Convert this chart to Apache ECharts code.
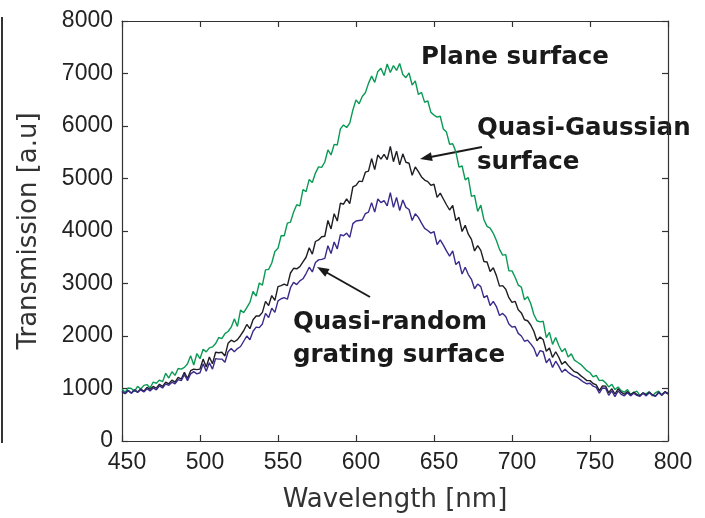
<!DOCTYPE html>
<html>
<head>
<meta charset="utf-8">
<script src="https://cdn.jsdelivr.net/npm/echarts@6/dist/echarts.min.js"></script>
<style>
html,body{margin:0;padding:0;background:#fff;}
#chart{width:705px;height:518px;}
</style>
</head>
<body>
<div id="chart"></div>
<script>
const wavelength = [
450,452,454,456,458,460,462,464,466,468,470,472,474,476,478,480,482,484,486,488,
490,492,494,496,498,500,502,504,506,508,510,512,514,516,518,520,522,524,526,528,
530,532,534,536,538,540,542,544,546,548,550,552,554,556,558,560,562,564,566,568,
570,572,574,576,578,580,582,584,586,588,590,592,594,596,598,600,602,604,606,608,
610,612,614,616,618,620,622,624,626,628,630,632,634,636,638,640,642,644,646,648,
650,652,654,656,658,660,662,664,666,668,670,672,674,676,678,680,682,684,686,688,
690,692,694,696,698,700,702,704,706,708,710,712,714,716,718,720,722,724,726,728,
730,732,734,736,738,740,742,744,746,748,750,752,754,756,758,760,762,764,766,768,
770,772,774,776,778,780,782,784,786,788,790,792,794,796,798,800];

const planeSurface = [
985,930,1010,1000,945,1040,990,1060,1075,1010,1120,1100,1160,1130,1290,1200,1320,1250,1380,1370,
1402,1470,1624,1448,1666,1568,1748,1698,1774,1792,1856,1972,1950,2044,2086,2168,2326,2182,2496,2444,
2540,2640,2850,2760,3010,2970,3260,3270,3390,3610,3670,3910,3910,4150,4170,4360,4500,4480,4790,4750,
4982,4925,5103,5221,5212,5314,5544,5448,5649,5639,5945,6018,5971,6056,6306,6497,6425,6563,6632,6812,
6950,6830,7040,7100,6960,7180,7020,7150,7060,7190,6980,6920,7010,6780,6860,6600,6640,6450,6480,6260,
6208,6170,6186,5942,5884,5652,5662,5512,5216,5238,4974,5018,4660,4676,4374,4492,4214,4088,4054,3956,
3820,3650,3540,3550,3240,3240,3120,2970,2930,2690,2750,2620,2410,2290,2270,2280,1970,2070,1840,1970,
1820,1700,1760,1600,1660,1540,1500,1460,1400,1340,1300,1220,1250,1150,1160,1110,1030,1080,980,1030,
960,930,980,890,920,950,870,910,900,940,860,920,950,870,930,920];

const quasiGaussian = [
940,900,960,915,975,935,990,950,1020,985,1040,1005,1080,1040,1120,1090,1160,1120,1210,1180,
1310,1190,1340,1370,1360,1370,1560,1410,1600,1470,1690,1680,1690,1620,1860,1920,1890,1930,2010,2100,
2220,2140,2310,2380,2380,2450,2660,2580,2770,2680,2940,2960,2990,2960,3200,3290,3280,3320,3410,3500,
3680,3560,3800,3830,3890,3900,4200,4040,4330,4190,4530,4510,4610,4520,4840,4870,4950,4940,5120,5140,
5380,5170,5450,5370,5460,5360,5610,5320,5520,5260,5470,5310,5290,5060,5220,5130,5030,4970,4940,4870,
4890,4640,4720,4610,4500,4400,4490,4200,4260,3990,4110,3940,3840,3620,3720,3630,3420,3410,3230,3300,
3150,2950,2960,2890,2730,2640,2660,2500,2440,2310,2290,2210,2090,1910,1980,1930,1710,1770,1590,1700,
1595,1460,1515,1440,1375,1320,1300,1245,1200,1150,1150,1095,1070,960,1050,1045,920,995,895,995,
930,890,940,880,930,890,860,920,870,930,880,860,930,880,940,900];

const quasiRandom = [
950,905,960,910,965,925,975,935,995,955,1010,975,1050,1010,1090,1060,1120,1090,1170,1150,
1270,1150,1280,1320,1280,1300,1470,1330,1490,1370,1570,1560,1560,1500,1700,1760,1700,1760,1800,1900,
2000,1930,2090,2170,2160,2230,2430,2350,2530,2450,2670,2710,2730,2700,2920,3020,2980,3050,3090,3190,
3310,3220,3400,3450,3460,3480,3720,3570,3790,3660,3930,3910,3960,3880,4140,4190,4200,4210,4330,4360,
4540,4360,4610,4540,4580,4480,4730,4450,4640,4390,4590,4450,4410,4200,4330,4260,4150,4050,4010,3960,
3990,3740,3830,3730,3620,3520,3620,3360,3420,3180,3310,3170,3080,2900,2990,2940,2730,2770,2580,2660,
2560,2390,2430,2370,2230,2170,2180,2050,2000,1900,1920,1850,1770,1610,1720,1700,1490,1570,1400,1520,
1425,1310,1365,1310,1265,1230,1210,1165,1120,1090,1100,1045,1020,910,1010,1005,870,955,845,955,
890,860,920,860,910,870,850,910,860,920,870,850,920,870,930,890];

const xTicks = {min: 450, max: 800, interval: 50};
const yTicks = {min: 0, max: 8000, interval: 1000};

const labels = [
  {text: 'Plane surface', x: 421, y: 60},
  {text: 'Quasi-Gaussian', x: 477, y: 131},
  {text: 'surface', x: 477, y: 165},
  {text: 'Quasi-random', x: 293, y: 325},
  {text: 'grating surface', x: 293, y: 358}
];

function pairs(ys){ return wavelength.map((w,i)=>[w, ys[i]]); }

const chart = echarts.init(document.getElementById('chart'), null, {renderer:'canvas'});
const axisFont = {fontFamily: 'Liberation Sans, Arial, sans-serif', fontSize: 23, color: '#222'};
const lineStyleAxis = {color: '#333', width: 1.2};

const textFont = 'bold 24.5px "DejaVu Sans", sans-serif';

const graphics = labels.map(l => ({
  type: 'text', left: l.x, top: l.y - 15, silent: true,
  style: {text: l.text, font: textFont, fill: '#1a1a1a'}
}));
graphics.push(
  {type:'line', shape:{x1:482,y1:147,x2:428,y2:157.5}, style:{stroke:'#1a1a1a', lineWidth:2}},
  {type:'polygon', shape:{points:[[420,159],[432.7,161.1],[430.9,152.3]]}, style:{fill:'#1a1a1a'}},
  {type:'line', shape:{x1:370,y1:297,x2:324,y2:271}, style:{stroke:'#1a1a1a', lineWidth:2}},
  {type:'polygon', shape:{points:[[317,267],[329.6,269.0],[325.2,276.8]]}, style:{fill:'#1a1a1a'}},
  {type:'line', shape:{x1:2,y1:17,x2:2,y2:443}, style:{stroke:'#333', lineWidth:2}}
);

const option = {
  animation: false,
  backgroundColor: '#fff',
  grid: {left: 122, right: 37, top: 21, bottom: 70, containLabel: false},
  xAxis: [
    {type: 'value', position: 'bottom', min: xTicks.min, max: xTicks.max, interval: xTicks.interval,
     name: 'Wavelength [nm]', nameLocation: 'middle', nameGap: 46,
     nameTextStyle: {fontFamily: 'DejaVu Sans, sans-serif', fontSize: 26, color: '#333'},
     axisLine: {show: true, onZero: false, lineStyle: lineStyleAxis},
     axisTick: {show: true, inside: true, length: 6, lineStyle: lineStyleAxis},
     axisLabel: Object.assign({margin: 10, padding: [0,0,0,10], formatter: v => String(v)}, axisFont),
     splitLine: {show: false}},
    {type: 'value', position: 'top', min: xTicks.min, max: xTicks.max, interval: xTicks.interval,
     axisLine: {show: true, onZero: false, lineStyle: lineStyleAxis},
     axisTick: {show: true, inside: true, length: 6, lineStyle: lineStyleAxis},
     axisLabel: {show: false}, splitLine: {show: false}}
  ],
  yAxis: [
    {type: 'value', position: 'left', min: yTicks.min, max: yTicks.max, interval: yTicks.interval,
     name: 'Transmission [a.u]', nameLocation: 'middle', nameGap: 80, nameRotate: 90,
     nameTextStyle: {fontFamily: 'DejaVu Sans, sans-serif', fontSize: 26, color: '#333'},
     axisLine: {show: true, onZero: false, lineStyle: lineStyleAxis},
     axisTick: {show: true, inside: true, length: 6, lineStyle: lineStyleAxis},
     axisLabel: Object.assign({margin: 9, formatter: v => String(v)}, axisFont),
     splitLine: {show: false}},
    {type: 'value', position: 'right', min: yTicks.min, max: yTicks.max, interval: yTicks.interval,
     axisLine: {show: true, onZero: false, lineStyle: lineStyleAxis},
     axisTick: {show: true, inside: true, length: 6, lineStyle: lineStyleAxis},
     axisLabel: {show: false}, splitLine: {show: false}}
  ],
  series: [
    {name: 'Plane surface', type: 'line', data: pairs(planeSurface), showSymbol: false,
     lineStyle: {color: '#0a9a55', width: 1.4}, z: 2},
    {name: 'Quasi-Gaussian surface', type: 'line', data: pairs(quasiGaussian), showSymbol: false,
     lineStyle: {color: '#1e1e24', width: 1.4}, z: 3},
    {name: 'Quasi-random grating surface', type: 'line', data: pairs(quasiRandom), showSymbol: false,
     lineStyle: {color: '#3a2a8c', width: 1.4}, z: 4}
  ],
  graphic: graphics
};
chart.setOption(option);
</script>
</body>
</html>
